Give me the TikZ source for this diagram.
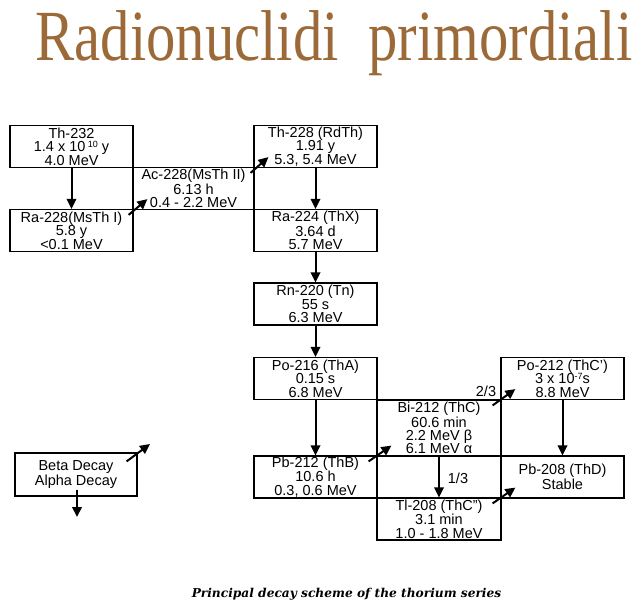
\documentclass[tikz,border=0pt]{standalone}
\usepackage{fontspec}
\setmainfont{Liberation Sans}
\newfontfamily\titlefont{Liberation Serif}
\newfontfamily\captionfont{DejaVu Serif}
\usetikzlibrary{arrows.meta}
\definecolor{titlebrown}{RGB}{155,106,56}
\newcommand{\expo}[1]{\raisebox{4pt}{\fontsize{9}{9}\selectfont #1}}

\begin{document}
\begin{tikzpicture}[x=1pt,y=-1pt]
    \tikzstyle{nuclide}=[draw,line width=1.2pt,minimum width=123pt,minimum height=42pt,inner sep=0pt,align=center,font=\fontsize{14.5}{13.4}\selectfont]
    \tikzstyle{decay}=[line width=2pt,-{Triangle[length=10pt,width=9.5pt]}]
    \tikzstyle{annot}=[font=\fontsize{14.5}{13.4}\selectfont]

    \useasboundingbox (0,0) rectangle (642,608);

    % Title
    \node[anchor=base,text=titlebrown,font=\titlefont\fontsize{72}{72}\selectfont] (title) at (334,60)
        {\scalebox{0.815}[1]{Radionuclidi~ primordiali}};

    % Top row and the Ac-228 box between
    \node[nuclide] (th232) at (71.5,146.5) {Th-232\\1.4 x 10\,\expo{10} y\\4.0 MeV};
    \node[nuclide] (ra228) at (71.5,230.5) {Ra-228(MsTh I)\\5.8 y\\<0.1 MeV};
    \node[nuclide,minimum width=121pt] (ac228) at (193.5,188.5) {Ac-228(MsTh II)\\6.13 h\\0.4 - 2.2 MeV};
    \node[nuclide] (th228) at (315.5,146.5) {Th-228 (RdTh)\\1.91 y\\5.3, 5.4 MeV};
    \node[nuclide] (ra224) at (315.5,230.5) {Ra-224 (ThX)\\3.64 d\\5.7 MeV};
    \node[nuclide] (rn220) at (315.5,304) {Rn-220 (Tn)\\55 s\\6.3 MeV};

    % Lower part of the chain
    \node[nuclide] (po216) at (315.5,378.5) {Po-216 (ThA)\\0.15 s\\6.8 MeV};
    \node[nuclide,minimum width=124pt,minimum height=56pt] (bi212) at (439,428) {Bi-212 (ThC)\\60.6 min\\2.2 MeV β\\6.1 MeV α};
    \node[nuclide] (pb212) at (315.5,477) {Pb-212 (ThB)\\10.6 h\\0.3, 0.6 MeV};
    \node[nuclide,minimum width=124pt] (tl208) at (439,519) {Tl-208 (ThC")\\3.1 min\\1.0 - 1.8 MeV};
    \node[nuclide] (po212) at (562.5,378.5) {Po-212 (ThC')\\3 x 10\expo{-7}s\\8.8 MeV};
    \node[nuclide] (pb208) at (562.5,477) {Pb-208 (ThD)\\Stable};

    % Alpha decays (straight down)
    \foreach \src/\dst in {th232/ra228, th228/ra224, ra224/rn220, rn220/po216, po216/pb212, po212/pb208, bi212/tl208}
        \draw[decay] (\src.south) -- (\dst.north);

    % Beta decays (up to the right)
    \foreach \src/\dst/\dx in {ra228/ac228/-5, ac228/th228/-4, pb212/bi212/-9, bi212/po212/-9, tl208/pb208/-9}
        \draw[decay] ([shift={(\dx,6)}]\src.north east) -- ([shift={(15,-11)}]\dst.south west);

    % Branching ratios
    \node[annot] (twothirds) at (486,391) {2/3};
    \node[annot] (onethird) at (458,478) {1/3};

    % Legend
    \node[nuclide,minimum width=122pt,minimum height=43pt] (legend) at (76,474.5) {Beta Decay\\Alpha Decay};
    \coordinate (betaend) at (150,444);
    \coordinate (alphaend) at (77,517);
    \draw[decay] ([shift={(-11,9)}]legend.north east) -- (betaend);
    \draw[decay] ([shift={(1,-7)}]legend.south) -- (alphaend);

    % Caption
    \node[anchor=base,font=\captionfont\fontsize{12.2}{12.2}\selectfont\bfseries\itshape] (caption) at (346.5,597)
        {Principal decay scheme of the thorium series};
\end{tikzpicture}
\end{document}
